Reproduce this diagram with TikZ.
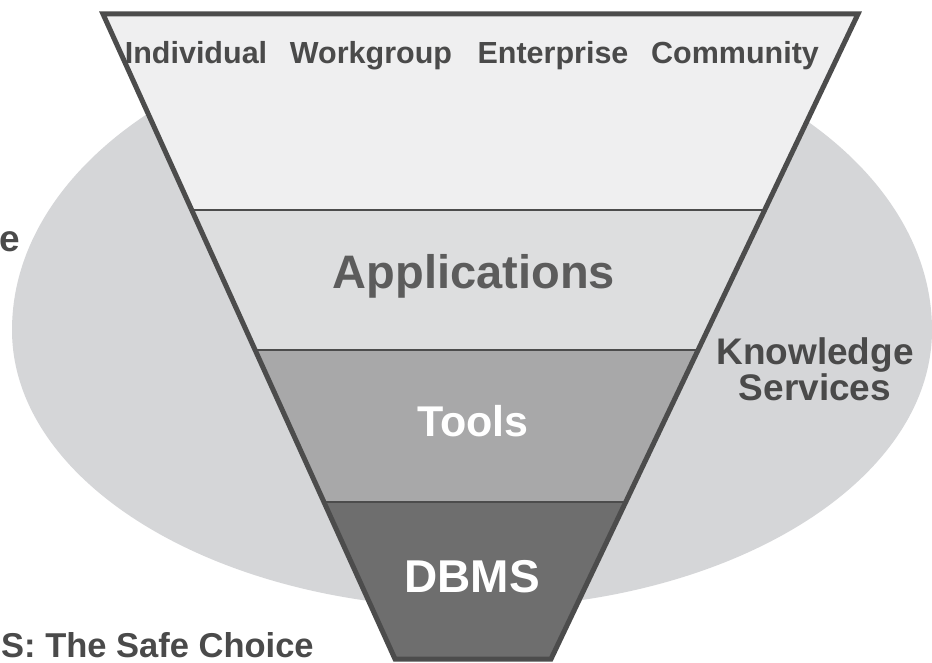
\documentclass[tikz,border=0pt]{standalone}
\usepackage{fontspec}
\setmainfont{Liberation Sans}
\definecolor{ellgrey}{HTML}{D5D6D8}
\definecolor{bandone}{HTML}{EFEFF0}
\definecolor{bandtwo}{HTML}{DDDEDF}
\definecolor{bandthree}{HTML}{A8A8A9}
\definecolor{bandfour}{HTML}{6E6E6E}
\definecolor{edgegrey}{HTML}{4C4C4C}
\definecolor{txtdark}{HTML}{4A4A4A}
\begin{document}
\begin{tikzpicture}[x=1pt,y=-1pt,
  lbl/.style={inner sep=0pt, anchor=base},
  fs/.style={font=\bfseries\fontsize{#1}{#1}\selectfont},
  sepline/.style={draw=edgegrey, line width=2.2pt},
  outline/.style={draw=edgegrey, line width=5pt, line join=miter}
]
\useasboundingbox (0,0) rectangle (932,663);
\clip (0,0) rectangle (932,663);
\fill[white] (0,0) rectangle (932,663);
% background oval: upper and lower half-ellipses
\fill[ellgrey] (12,330)
  arc[start angle=180, end angle=360, x radius=460, y radius=305]
  arc[start angle=0, end angle=180, x radius=460, y radius=278] -- cycle;
% funnel corners and band boundaries
\coordinate (TL) at (103,14);
\coordinate (TR) at (858,14);
\coordinate (BR) at (551,659);
\coordinate (BL) at (395,659);
\coordinate (L1) at (191.7,210);
\coordinate (R1) at (764.7,210);
\coordinate (L2) at (255.1,350);
\coordinate (R2) at (698.1,350);
\coordinate (L3) at (323.9,502);
\coordinate (R3) at (625.7,502);
\fill[bandone] (TL) -- (TR) -- (R1) -- (L1) -- cycle;
\fill[bandtwo] (L1) -- (R1) -- (R2) -- (L2) -- cycle;
\fill[bandthree] (L2) -- (R2) -- (R3) -- (L3) -- cycle;
\fill[bandfour] (L3) -- (R3) -- (BR) -- (BL) -- cycle;
\draw[sepline] (L1) -- (R1);
\draw[sepline] (L2) -- (R2);
\draw[sepline] (L3) -- (R3);
\draw[outline] (TL) -- (TR) -- (BR) -- (BL) -- cycle;
% texts
\node[lbl, fs=30.5, text=txtdark] (w1) at (196,64) {Individual};
\node[lbl, fs=30.5, text=txtdark] (w2) at (371,64) {Workgroup};
\node[lbl, fs=30.5, text=txtdark] (w3) at (553,64) {Enterprise};
\node[lbl, fs=30.5, text=txtdark] (w4) at (735,64) {Community};
\node[lbl, fs=47, text=txtdark!90!white] (apps) at (474,288) {Applications};
\node[lbl, fs=43, text=white] (tools) at (473,436) {Tools};
\node[lbl, fs=46, text=white] (dbms) at (472,592) {DBMS};
\node[inner sep=0pt, anchor=base, align=center, text=txtdark,
      font=\bfseries\fontsize{37}{32}\selectfont] (know) at (815,400)
      {Knowledge\\Services};
\node[inner sep=0pt, anchor=base east, fs=37, text=txtdark] (efrag) at (20,252) {e};
\node[inner sep=0pt, anchor=base west, fs=34.5, text=txtdark] (safe) at (1,657) {S: The Safe Choice};
\end{tikzpicture}
\end{document}
